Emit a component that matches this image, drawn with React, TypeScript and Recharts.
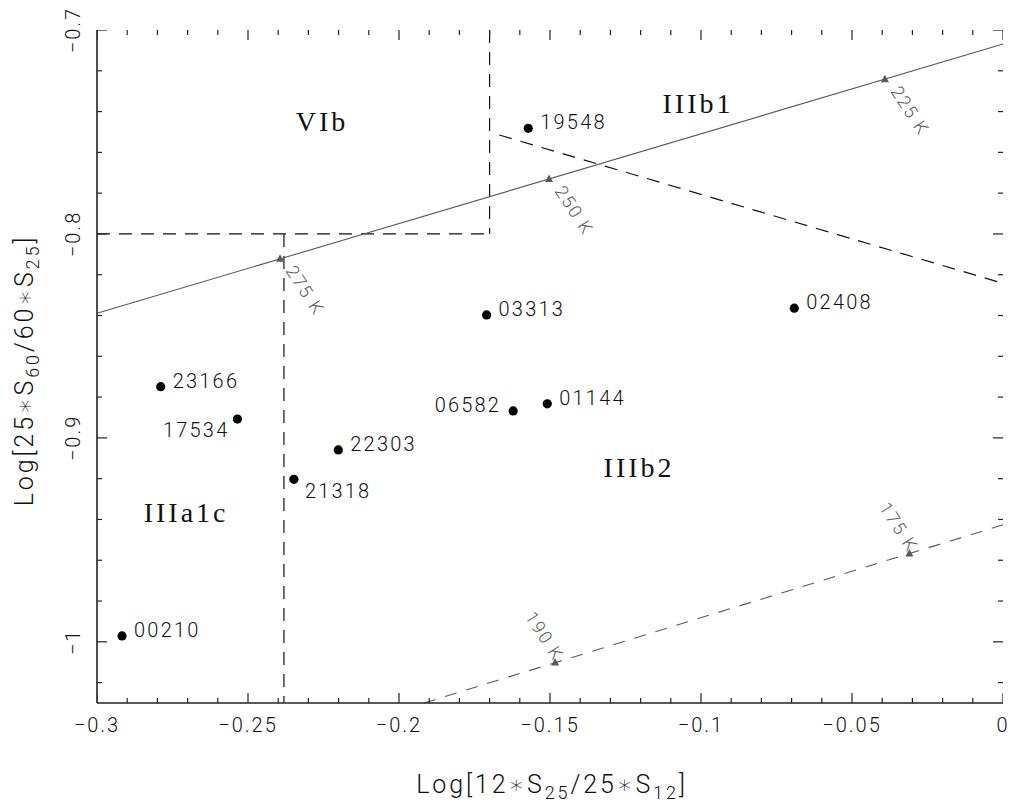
import React from 'react';
import { ScatterChart, Scatter, XAxis, YAxis, ReferenceLine, Label } from 'recharts';

// IRAS sources in the two-colour diagram
const sourceNames = ['19548', '03313', '02408', '23166', '17534', '21318', '00210', '22303', '06582', '01144'];
const sourceX = [-0.1572, -0.171, -0.0691, -0.2789, -0.2535, -0.2348, -0.2917, -0.2201, -0.1622, -0.1509];
const sourceY = [-0.7482, -0.8397, -0.8364, -0.8749, -0.8908, -0.9203, -0.9971, -0.9059, -0.8868, -0.8833];

// Blackbody line (solid) and its temperature marks
const bbLineX = [-0.3, 0];
const bbLineY = [-0.8389, -0.7069];
const bbTempLabels = ['275 K', '250 K', '225 K'];
const bbTempX = [-0.2394, -0.1503, -0.0391];
const bbTempY = [-0.8122, -0.773, -0.7241];

// Second temperature line (dashed) and its marks
const coolLineX = [-0.1917, 0];
const coolLineY = [-1.03, -0.9426];
const coolTempLabels = ['190 K', '175 K'];
const coolTempX = [-0.1483, -0.031];
const coolTempY = [-1.0102, -0.9567];

// Region boundaries (dashed segments)
const boundX1 = [-0.3, -0.17, -0.2381, -0.1668];
const boundY1 = [-0.8, -0.7, -0.8, -0.7515];
const boundX2 = [-0.17, -0.17, -0.2381, 0];
const boundY2 = [-0.8, -0.8, -1.03, -0.8242];

// Region names
const regionNames = ['VIb', 'IIIb1', 'IIIa1c', 'IIIb2'];
const regionX = [-0.2255, -0.101, -0.2705, -0.1205];
const regionY = [-0.745, -0.7358, -0.9368, -0.9147];

// Axis ticks
const xTicks = [
  -0.3, -0.29, -0.28, -0.27, -0.26, -0.25, -0.24, -0.23, -0.22, -0.21, -0.2,
  -0.19, -0.18, -0.17, -0.16, -0.15, -0.14, -0.13, -0.12, -0.11, -0.1,
  -0.09, -0.08, -0.07, -0.06, -0.05, -0.04, -0.03, -0.02, -0.01, 0,
];
const xMajor = [-0.3, -0.25, -0.2, -0.15, -0.1, -0.05, 0];
const yTicks = [-1.02, -1.0, -0.98, -0.96, -0.94, -0.92, -0.9, -0.88, -0.86, -0.84, -0.82, -0.8, -0.78, -0.76, -0.74, -0.72, -0.7];
const yMajor = [-1.0, -0.9, -0.8, -0.7];

const X_DOMAIN: [number, number] = [-0.3, 0];
const Y_DOMAIN: [number, number] = [-1.03, -0.7];

const sources = sourceNames.map((name, i) => ({ name, x: sourceX[i], y: sourceY[i] }));
const bbTemps = bbTempLabels.map((name, i) => ({ name, x: bbTempX[i], y: bbTempY[i] }));
const coolTemps = coolTempLabels.map((name, i) => ({ name, x: coolTempX[i], y: coolTempY[i] }));
const regions = regionNames.map((name, i) => ({ name, x: regionX[i], y: regionY[i] }));

const isIn = (v: number, list: number[]) => list.some((m) => Math.abs(m - v) < 1e-6);

// inward tick marks along the four frame edges
const bottomMarks = xTicks.map((v) => ({ x: v, y: Y_DOMAIN[0], major: isIn(v, xMajor) }));
const topMarks = xTicks.map((v) => ({ x: v, y: Y_DOMAIN[1], major: isIn(v, xMajor) }));
const leftMarks = yTicks.map((v) => ({ x: X_DOMAIN[0], y: v, major: isIn(v, yMajor) }));
const rightMarks = yTicks.map((v) => ({ x: X_DOMAIN[1], y: v, major: isIn(v, yMajor) }));

const FRAME = '#222';
const SANS = "Roboto, 'DejaVu Sans', sans-serif";
const SERIF = "'Liberation Serif', 'DejaVu Serif', serif";
const GREY = '#5a5a5a';

// where each source's name sits relative to its dot
const labelSide: Record<string, string> = { '17534': 'leftBelow', '06582': 'left', '21318': 'rightBelow' };

const fmt = (v: number) => (Math.abs(v) < 1e-9 ? '0' : '\u2212' + String(Math.abs(+v.toFixed(2))));

const textBase = { fontFamily: SANS, fontWeight: 300, fill: '#111' };
const tickText = { ...textBase, fontSize: 20, letterSpacing: 2 };

const BottomLabel = (p: any) => {
  const { x, y, payload } = p;
  return (
    <text x={x} y={y + 29} textAnchor="middle" {...tickText}>
      {fmt(payload.value)}
    </text>
  );
};

const LeftLabel = (p: any) => {
  const { x, y, payload } = p;
  const lx = x - 17;
  return (
    <text x={lx} y={y} textAnchor="middle" transform={`rotate(-90, ${lx}, ${y})`} {...tickText}>
      {fmt(payload.value)}
    </text>
  );
};

const markShape = (dx: number, dy: number) => (p: any) => {
  const { cx, cy, payload } = p;
  const len = payload.major ? 10 : 5;
  return <line x1={cx} y1={cy} x2={cx + dx * len} y2={cy + dy * len} stroke={FRAME} strokeWidth={1.2} />;
};
const UpMark = markShape(0, -1);
const DownMark = markShape(0, 1);
const RightMark = markShape(1, 0);
const LeftMark = markShape(-1, 0);

const SourceDot = (p: any) => {
  const { cx, cy, payload } = p;
  const side = labelSide[payload.name] || 'right';
  let tx = cx + 12;
  let ty = cy + 1;
  let anchor: 'start' | 'end' = 'start';
  if (side === 'left') {
    tx = cx - 12;
    anchor = 'end';
  } else if (side === 'leftBelow') {
    tx = cx - 8;
    ty = cy + 18;
    anchor = 'end';
  } else if (side === 'rightBelow') {
    tx = cx + 11;
    ty = cy + 19;
  }
  return (
    <g>
      <circle cx={cx} cy={cy} r={4.6} fill="#000" />
      <text x={tx} y={ty} textAnchor={anchor} fontSize={20} letterSpacing={2.2} {...textBase}>
        {payload.name}
      </text>
    </g>
  );
};

const Tri = ({ cx, cy }: { cx: number; cy: number }) => (
  <polygon points={`${cx - 4},${cy + 3} ${cx + 4},${cy + 3} ${cx},${cy - 4.5}`} fill={GREY} />
);

const BbTemp = (p: any) => {
  const { cx, cy, payload } = p;
  const bx = cx + 5;
  const by = cy + 12;
  return (
    <g>
      <Tri cx={cx} cy={cy} />
      <text x={bx} y={by} transform={`rotate(57, ${bx}, ${by})`} fontFamily={SANS} fontWeight={300} fontSize={18} letterSpacing={1.8} fill={GREY}>
        {payload.name}
      </text>
    </g>
  );
};

const CoolTemp = (p: any) => {
  const { cx, cy, payload } = p;
  const ex = cx - 1;
  const ey = cy;
  return (
    <g>
      <Tri cx={cx} cy={cy} />
      <text x={ex} y={ey} textAnchor="end" transform={`rotate(57, ${ex}, ${ey})`} fontFamily={SANS} fontWeight={300} fontSize={18} letterSpacing={1.8} fill={GREY}>
        {payload.name}
      </text>
    </g>
  );
};

const RegionName = (p: any) => {
  const { cx, cy, payload } = p;
  return (
    <text x={cx} y={cy} textAnchor="middle" dominantBaseline="central" fontFamily={SERIF} fontSize={28} letterSpacing={3} fill="#111">
      {payload.name}
    </text>
  );
};

const titleStyle = { ...textBase, fontSize: 25, letterSpacing: 2.9 };

const XTitle = (p: any) => {
  const vb = p.viewBox || {};
  const cx = vb.width ? vb.x + vb.width / 2 : 550;
  return (
    <text x={cx + 2} y={793} textAnchor="middle" {...titleStyle}>
      Log[12∗S<tspan dy={6} fontSize={18}>25</tspan>
      <tspan dy={-6}>/25∗S</tspan>
      <tspan dy={6} fontSize={18}>12</tspan>
      <tspan dy={-6}>]</tspan>
    </text>
  );
};

const YTitle = (p: any) => {
  const vb = p.viewBox || {};
  const cy = (vb.height ? vb.y + vb.height / 2 : 366) + 4;
  const bx = 33;
  return (
    <text x={bx} y={cy} textAnchor="middle" transform={`rotate(-90, ${bx}, ${cy})`} {...titleStyle}>
      Log[25∗S<tspan dy={6} fontSize={18}>60</tspan>
      <tspan dy={-6}>/60∗S</tspan>
      <tspan dy={6} fontSize={18}>25</tspan>
      <tspan dy={-6}>]</tspan>
    </text>
  );
};

export default function App() {
  const axisLine = { stroke: FRAME, strokeWidth: 1.6 };
  return (
    <div style={{ position: 'absolute', left: 0, top: 0, background: '#fff' }}>
      <ScatterChart width={1010} height={812} margin={{ top: 30, right: 7, bottom: 0, left: 0 }}>
        <XAxis
          type="number"
          dataKey="x"
          domain={X_DOMAIN}
          allowDataOverflow
          ticks={xMajor}
          interval={0}
          height={109}
          tickSize={0}
          tickMargin={0}
          tickLine={false}
          axisLine={axisLine}
          tick={BottomLabel}
        >
          <Label content={XTitle} />
        </XAxis>
        <XAxis
          xAxisId="top"
          orientation="top"
          type="number"
          dataKey="x"
          domain={X_DOMAIN}
          allowDataOverflow
          ticks={xMajor}
          interval={0}
          height={0}
          tickLine={false}
          axisLine={axisLine}
          tick={false}
        />
        <YAxis
          type="number"
          dataKey="y"
          domain={Y_DOMAIN}
          allowDataOverflow
          ticks={yMajor}
          interval={0}
          width={97}
          tickSize={0}
          tickMargin={0}
          tickLine={false}
          axisLine={axisLine}
          tick={LeftLabel}
        >
          <Label content={YTitle} />
        </YAxis>
        <YAxis
          yAxisId="right"
          orientation="right"
          type="number"
          dataKey="y"
          domain={Y_DOMAIN}
          allowDataOverflow
          ticks={yMajor}
          interval={0}
          width={0}
          tickLine={false}
          axisLine={axisLine}
          tick={false}
        />

        {boundX1.map((x1, i) => (
          <ReferenceLine
            key={`b${i}`}
            segment={[
              { x: x1, y: boundY1[i] },
              { x: boundX2[i], y: boundY2[i] },
            ]}
            stroke="#111"
            strokeWidth={1.2}
            strokeDasharray="13 9"
            ifOverflow="visible"
          />
        ))}
        <ReferenceLine
          segment={[
            { x: bbLineX[0], y: bbLineY[0] },
            { x: bbLineX[1], y: bbLineY[1] },
          ]}
          stroke={GREY}
          strokeWidth={1.1}
          ifOverflow="visible"
        />
        <ReferenceLine
          segment={[
            { x: coolLineX[0], y: coolLineY[0] },
            { x: coolLineX[1], y: coolLineY[1] },
          ]}
          stroke={GREY}
          strokeWidth={1.1}
          strokeDasharray="12 10"
          ifOverflow="visible"
        />

        <Scatter data={bottomMarks} shape={UpMark} isAnimationActive={false} />
        <Scatter data={topMarks} shape={DownMark} isAnimationActive={false} />
        <Scatter data={leftMarks} shape={RightMark} isAnimationActive={false} />
        <Scatter data={rightMarks} shape={LeftMark} isAnimationActive={false} />

        <Scatter data={regions} shape={RegionName} isAnimationActive={false} />
        <Scatter data={bbTemps} shape={BbTemp} isAnimationActive={false} />
        <Scatter data={coolTemps} shape={CoolTemp} isAnimationActive={false} />
        <Scatter data={sources} shape={SourceDot} isAnimationActive={false} />
      </ScatterChart>
    </div>
  );
}
